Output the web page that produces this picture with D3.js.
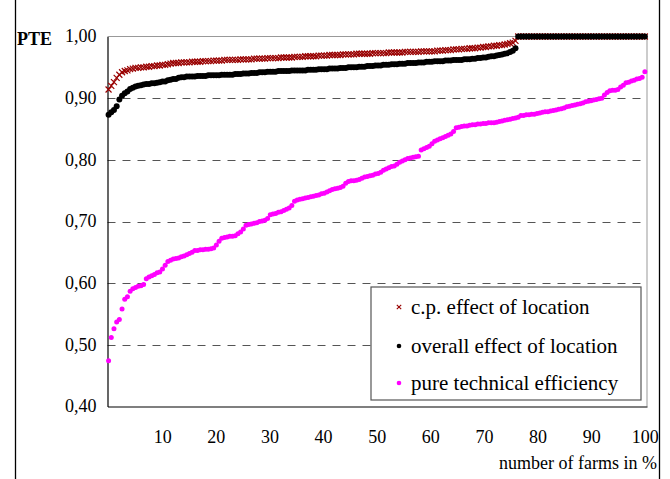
<!DOCTYPE html>
<html><head><meta charset="utf-8">
<script src="https://cdn.jsdelivr.net/npm/d3@7"></script>
<style>
html,body{margin:0;padding:0;background:#fff;}
svg{display:block;}
text{font-family:"Liberation Serif","Times New Roman",serif;fill:#000;}
</style></head>
<body><svg id="c" width="670" height="479"></svg>
<script>
const yTicks = [0.40,0.50,0.60,0.70,0.80,0.90,1.00];
const xTicks = [10,20,30,40,50,60,70,80,90,100];
const seriesNames = ["c.p. effect of location","overall effect of location","pure technical efficiency"];
const seriesColors = ["#990000","#000000","#ff00ff"];

const cpEffect = [
0.914,0.920,0.926,0.933,0.938,0.942,0.944,0.945,0.947,0.948,0.949,
0.949,0.950,0.950,0.951,0.951,0.952,0.952,0.953,0.953,0.954,
0.954,0.955,0.956,0.957,0.957,0.957,0.958,0.958,0.958,0.958,
0.959,0.959,0.959,0.959,0.960,0.960,0.960,0.960,0.961,0.961,
0.961,0.961,0.962,0.962,0.962,0.962,0.962,0.962,0.963,0.963,
0.963,0.963,0.963,0.964,0.964,0.964,0.964,0.964,0.965,0.965,
0.965,0.965,0.965,0.966,0.966,0.966,0.966,0.966,0.967,0.967,
0.967,0.967,0.968,0.968,0.968,0.968,0.968,0.969,0.969,0.969,
0.969,0.970,0.970,0.970,0.970,0.970,0.971,0.971,0.971,0.971,
0.971,0.972,0.972,0.972,0.972,0.972,0.972,0.973,0.973,0.973,
0.973,0.973,0.973,0.974,0.974,0.974,0.974,0.974,0.974,0.975,
0.975,0.975,0.975,0.975,0.975,0.976,0.976,0.976,0.976,0.976,
0.976,0.977,0.977,0.977,0.978,0.978,0.978,0.979,0.979,0.979,
0.980,0.980,0.980,0.981,0.981,0.981,0.982,0.982,0.983,0.983,
0.984,0.984,0.985,0.985,0.986,0.986,0.987,0.988,0.989,0.990,0.993,
1,1,1,1,1,1,1,1,1,1,1,1,1,1,1,1,1,1,1,1,1,1,1,1,
1,1,1,1,1,1,1,1,1,1,1,1,1,1,1,1,1,1,1,1,1,1,1,1];

const overallEffect = [
0.873,0.877,0.881,0.887,0.898,0.904,0.908,0.911,0.915,0.917,0.919,
0.920,0.921,0.922,0.923,0.923,0.924,0.924,0.925,0.926,0.927,
0.927,0.929,0.930,0.931,0.931,0.933,0.934,0.934,0.935,0.935,
0.935,0.935,0.936,0.936,0.936,0.936,0.937,0.937,0.937,0.937,
0.937,0.938,0.938,0.938,0.938,0.938,0.939,0.939,0.939,0.940,
0.940,0.940,0.941,0.941,0.941,0.942,0.942,0.942,0.943,0.943,
0.943,0.943,0.944,0.944,0.944,0.944,0.944,0.945,0.945,0.945,
0.945,0.945,0.945,0.946,0.946,0.946,0.946,0.947,0.947,0.947,
0.947,0.948,0.948,0.948,0.948,0.949,0.949,0.949,0.950,0.950,
0.950,0.950,0.951,0.951,0.951,0.952,0.952,0.952,0.953,0.953,
0.953,0.954,0.954,0.954,0.955,0.955,0.955,0.956,0.956,0.956,
0.957,0.957,0.957,0.957,0.958,0.958,0.958,0.959,0.959,0.959,
0.960,0.960,0.960,0.960,0.961,0.961,0.961,0.962,0.962,0.962,
0.962,0.963,0.963,0.963,0.964,0.964,0.965,0.965,0.966,0.966,
0.967,0.968,0.968,0.969,0.970,0.971,0.972,0.973,0.975,0.977,0.981,
1,1,1,1,1,1,1,1,1,1,1,1,1,1,1,1,1,1,1,1,1,1,1,1,
1,1,1,1,1,1,1,1,1,1,1,1,1,1,1,1,1,1,1,1,1,1,1,1];

const pureTE = [
0.474,0.512,0.526,0.537,0.541,0.558,0.574,0.578,0.587,0.591,0.593,
0.595,0.596,0.598,0.607,0.610,0.612,0.614,0.617,0.618,0.623,
0.629,0.635,0.637,0.639,0.640,0.641,0.643,0.644,0.646,0.648,
0.650,0.653,0.653,0.654,0.654,0.655,0.655,0.656,0.657,0.662,
0.668,0.673,0.674,0.675,0.676,0.676,0.677,0.680,0.683,0.688,
0.694,0.695,0.696,0.697,0.698,0.700,0.701,0.702,0.705,0.711,
0.712,0.713,0.715,0.716,0.718,0.720,0.722,0.726,0.733,0.735,
0.736,0.737,0.738,0.739,0.740,0.741,0.742,0.743,0.745,0.746,
0.748,0.750,0.752,0.753,0.754,0.755,0.757,0.762,0.765,0.766,
0.766,0.767,0.768,0.770,0.772,0.773,0.774,0.775,0.777,0.778,
0.780,0.783,0.785,0.787,0.789,0.790,0.793,0.796,0.798,0.800,
0.802,0.803,0.804,0.805,0.806,0.816,0.818,0.820,0.822,0.826,
0.830,0.832,0.834,0.836,0.838,0.840,0.842,0.846,0.852,0.853,
0.854,0.855,0.855,0.856,0.857,0.857,0.858,0.858,0.859,0.859,
0.860,0.860,0.860,0.861,0.862,0.863,0.864,0.865,0.866,0.867,
0.868,0.869,0.872,0.872,0.873,0.873,0.874,0.874,0.875,0.876,
0.877,0.878,0.878,0.879,0.880,0.881,0.882,0.883,0.884,0.886,
0.887,0.888,0.889,0.890,0.891,0.892,0.894,0.895,0.896,0.897,
0.898,0.899,0.900,0.905,0.909,0.912,0.913,0.913,0.914,0.918,
0.921,0.925,0.926,0.928,0.929,0.931,0.932,0.934,0.943];

const svg = d3.select("#c");
const L = 107.5, R = 647, T = 36.5, B = 406.5;
const x = d3.scaleLinear().domain([-0.2, 100.4]).range([L, R]);
const y = d3.scaleLinear().domain([0.4, 1.0]).range([B, T]);
const share = (i, n) => i / (n - 1) * 100;

// outer page frame
svg.append("line").attr("x1",15.5).attr("x2",15.5).attr("y1",0).attr("y2",479).attr("stroke","#000").attr("stroke-width",1.3);
svg.append("line").attr("x1",659.5).attr("x2",659.5).attr("y1",0).attr("y2",479).attr("stroke","#000").attr("stroke-width",1.3);

// grid
svg.append("g").selectAll("line").data(yTicks.filter(v => v > 0.41 && v < 0.99)).join("line")
  .attr("x1", L).attr("x2", R).attr("y1", d => Math.round(y(d)) + 0.5).attr("y2", d => Math.round(y(d)) + 0.5)
  .attr("stroke", "#555").attr("stroke-width", 1).attr("stroke-dasharray", "8,7");
// frame top & right
svg.append("line").attr("x1",L).attr("x2",R).attr("y1",T).attr("y2",T).attr("stroke","#999");
svg.append("line").attr("x1",R).attr("x2",R).attr("y1",T).attr("y2",B).attr("stroke","#999");

// axes
const yAxis = d3.axisLeft(y).tickValues(yTicks).tickSize(0).tickPadding(11)
  .tickFormat(d => d3.format(".2f")(d).replace(".", ","));
const gy = svg.append("g").attr("transform", `translate(${L},0)`).call(yAxis);
gy.select(".domain").attr("stroke", "#000").attr("stroke-width", 1.2);
gy.selectAll("text").attr("font-size", 18).attr("font-family", '"Liberation Serif",serif').attr("dy", "0.3em");

const xAxis = d3.axisBottom(x).tickValues(xTicks).tickSize(0).tickPadding(24).tickFormat(d3.format("d"));
const gx = svg.append("g").attr("transform", `translate(0,${B})`).call(xAxis);
gx.select(".domain").attr("stroke", "#000").attr("stroke-width", 1.2);
gx.selectAll("text").attr("font-size", 18).attr("font-family", '"Liberation Serif",serif');

svg.append("text").attr("x", 17).attr("y", 45).attr("font-size", 18).attr("font-weight", "bold").text("PTE");
svg.append("text").attr("x", 657).attr("y", 469).attr("text-anchor", "end").attr("font-size", 18).text("number of farms in %");

// series
const crossPath = s => `M${-s},${-s}L${s},${s}M${-s},${s}L${s},${-s}`;
svg.append("g").selectAll("path").data(cpEffect).join("path")
  .attr("transform", (d, i) => `translate(${x(share(i, cpEffect.length))},${y(d)})`)
  .attr("d", crossPath(3)).attr("stroke", seriesColors[0]).attr("stroke-width", 1.2).attr("fill", "none");
svg.append("g").selectAll("circle").data(overallEffect).join("circle")
  .attr("cx", (d, i) => x(share(i, overallEffect.length))).attr("cy", d => y(d)).attr("r", 3).attr("fill", seriesColors[1]);
svg.append("g").selectAll("circle").data(pureTE).join("circle")
  .attr("cx", (d, i) => x(share(i, pureTE.length))).attr("cy", d => y(d)).attr("r", 2.5).attr("fill", seriesColors[2]);

// legend
const lg = svg.append("g");
lg.append("rect").attr("x", 371).attr("y", 287).attr("width", 270).attr("height", 113)
  .attr("fill", "#fff").attr("stroke", "#555").attr("stroke-width", 1.2);
const rows = [307, 346, 383];
seriesNames.forEach((name, k) => {
  const cy = rows[k];
  if (k === 0) {
    lg.append("path").attr("transform", `translate(399,${cy})`).attr("d", crossPath(2.2))
      .attr("stroke", seriesColors[0]).attr("stroke-width", 1.1);
  } else {
    lg.append("circle").attr("cx", 399).attr("cy", cy).attr("r", 2.3).attr("fill", seriesColors[k]);
  }
  lg.append("text").attr("x", 411).attr("y", cy).attr("dy", "0.33em").attr("font-size", 21).text(name);
});
</script></body></html>
